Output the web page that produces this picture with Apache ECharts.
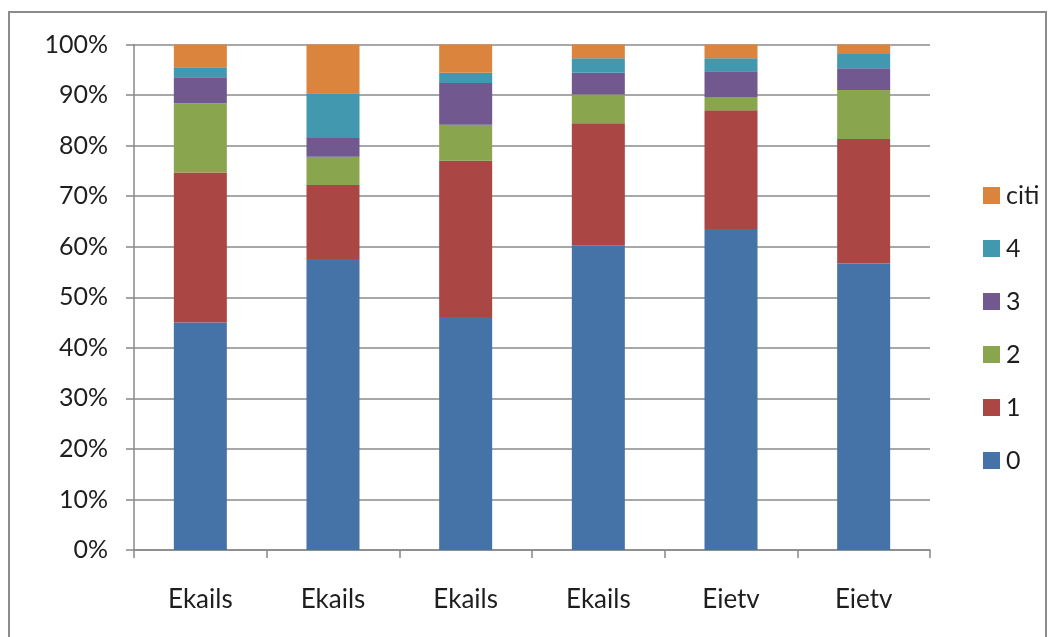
<!DOCTYPE html>
<html>
<head>
<meta charset="utf-8">
<script src="https://cdn.jsdelivr.net/npm/echarts@6/dist/echarts.min.js"></script>
<style>
  html, body { margin: 0; padding: 0; background: #fff; }
  #chart { width: 1052px; height: 637px; }
</style>
</head>
<body>
<div id="chart"></div>
<script>
// Category labels along the x axis
const categories = ['Ekails', 'Ekails', 'Ekails', 'Ekails', 'Eietv', 'Eietv'];

// Share of each group per category, in percent (stacked to 100)
const s0    = [45.0, 57.55, 46.1, 60.3, 63.5, 56.7];
const s1    = [29.7, 14.65, 30.9, 24.1, 23.5, 24.6];
const s2    = [13.7, 5.6,   7.1,  5.7,  2.6,  9.7];
const s3    = [5.1,  3.7,   8.3,  4.3,  5.1,  4.3];
const s4    = [2.0,  8.85,  2.0,  2.9,  2.6,  2.8];
const sCiti = [4.5,  9.65,  5.6,  2.7,  2.7,  1.9];

const seriesNames = ['0', '1', '2', '3', '4', 'citi'];
const seriesValues = [s0, s1, s2, s3, s4, sCiti];
const colors = ['#4572A7', '#AA4643', '#89A54E', '#71588F', '#4198AF', '#DB843D'];

const font = 'Lato, "Open Sans", "DejaVu Sans", sans-serif';
const textColor = '#1e1e1e';

const chart = echarts.init(document.getElementById('chart'));
chart.setOption({
  animation: false,
  backgroundColor: '#fff',
  color: colors,
  graphic: [{
    type: 'rect',
    shape: { x: 9, y: 12, width: 1037, height: 640 },
    style: { fill: 'none', stroke: '#8c8c8c', lineWidth: 2 },
    z: -1
  }],
  grid: { left: 134, right: 122, top: 44.5, bottom: 87 },
  legend: {
    orient: 'vertical',
    left: 978,
    top: 178,
    itemWidth: 17,
    itemHeight: 17,
    itemGap: 28,
    icon: 'rect',
    data: ['citi', '4', '3', '2', '1', '0'],
    textStyle: { fontFamily: font, fontSize: 25, color: textColor, padding: [0, 0, 0, 1] }
  },
  xAxis: {
    type: 'category',
    data: categories,
    axisLine: { lineStyle: { color: '#888', width: 1.5 } },
    axisTick: { show: true, length: 8, lineStyle: { color: '#888', width: 1.5 } },
    axisLabel: { margin: 37, fontFamily: font, fontSize: 26, color: textColor }
  },
  yAxis: {
    type: 'value',
    min: 0,
    max: 100,
    interval: 10,
    axisLine: { show: true, lineStyle: { color: '#888', width: 1.5 } },
    axisTick: { show: true, length: 8, lineStyle: { color: '#888', width: 1.5 } },
    axisLabel: { margin: 26, formatter: '{value}%', fontFamily: font, fontSize: 25, color: textColor },
    splitLine: { lineStyle: { color: '#a8a8a8', width: 2 } }
  },
  series: seriesNames.map((name, i) => ({
    name: name,
    type: 'bar',
    stack: 'total',
    barWidth: 53,
    data: seriesValues[i],
    itemStyle: { color: colors[i] }
  }))
});
</script>
</body>
</html>
